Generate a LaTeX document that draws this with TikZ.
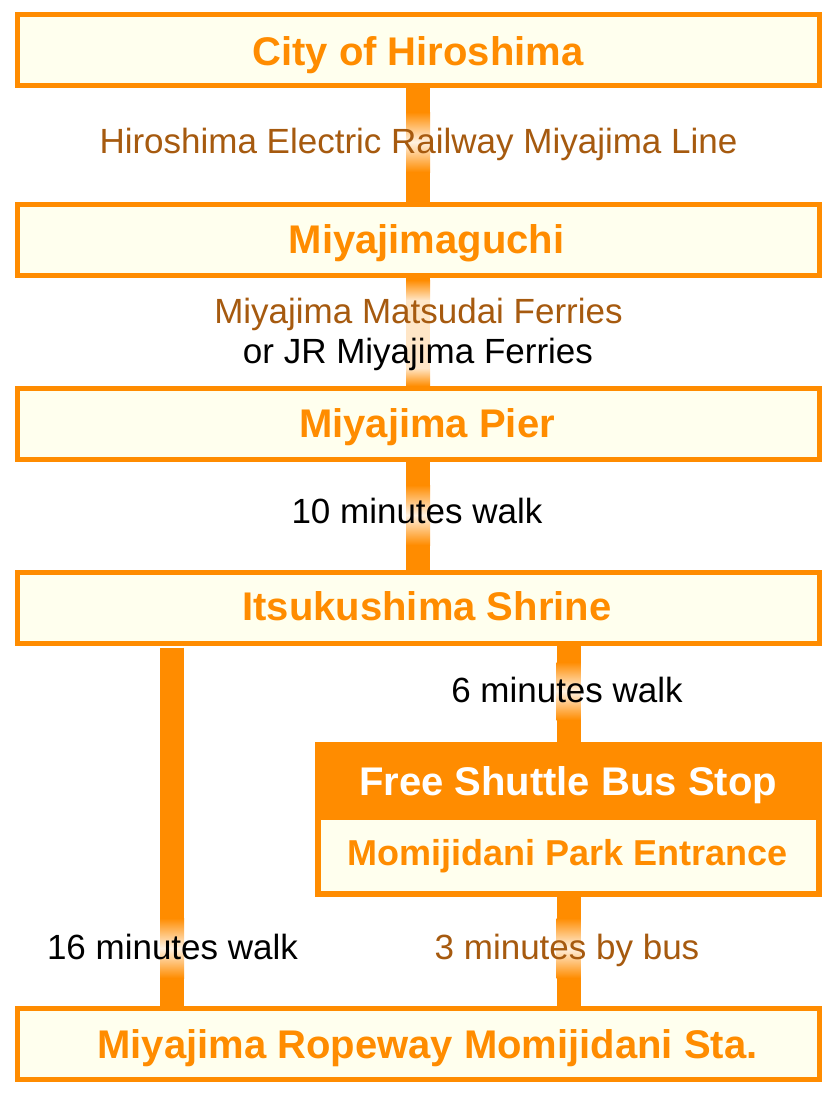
\documentclass[tikz,border=0pt]{standalone}
\usepackage{fontspec}
\setmainfont{Liberation Sans}
\definecolor{OR}{HTML}{FF8C00}
\definecolor{BX}{HTML}{FFFFEE}
\definecolor{BR}{HTML}{A65A0F}
\begin{document}
\begin{tikzpicture}[x=1pt,y=-1pt,
  box/.style={draw=OR, line width=5pt, fill=BX, minimum width=802pt, minimum height=71pt, inner sep=0pt},
  ttl/.style={anchor=base, inner sep=0pt, text=OR, font=\fontsize{40}{44}\selectfont\bfseries},
  bar/.style={draw=OR, line width=24pt},
  glow/.style={shading=axis, top color=OR, bottom color=OR, middle color=OR!12},
  lbl/.style={anchor=base, font=\fontsize{35}{40}\selectfont, inner sep=0pt},
]
\useasboundingbox (0,0) rectangle (834,1095);
\fill[white] (0,0) rectangle (834,1095);
% boxes
\node[box] (city)   at (418,50)   {};
\node[box] (miya)   at (418,239.5){};
\node[box] (pier)   at (418,424)  {};
\node[box] (shrine) at (418,607.5){};
\node[box] (rope)   at (418,1044) {};
\node[draw=none, fill=OR, minimum width=507pt, minimum height=155pt, inner sep=0pt] (bus) at (568.5,819.5) {};
\node[fill=BX, minimum width=495pt, minimum height=71pt, inner sep=0pt] (park) at (568.5,855.5) {};
% titles
\node[ttl] (tcity)   at (418,65)   {City of Hiroshima};
\node[ttl] (tmiya)   at (426.5,253){Miyajimaguchi};
\node[ttl] (tpier)   at (427,437)  {Miyajima Pier};
\node[ttl] (tshrine) at (427,620)  {Itsukushima Shrine};
\node[ttl] (trope)   at (427.5,1058){Miyajima Ropeway Momijidani Sta.};
\node[ttl, text=white] (tbus) at (568,795) {Free Shuttle Bus Stop};
\node[ttl, font=\fontsize{36}{40}\selectfont\bfseries] (tpark) at (567.5,865) {Momijidani Park Entrance};
\coordinate (L) at (172,0);
\coordinate (R) at (568.5,0);
% bars
\draw[bar] (city.south) -- (miya.north);
\draw[bar] (miya.south) -- (pier.north);
\draw[bar] (pier.south) -- (shrine.north);
\draw[bar] ([yshift=-2pt]shrine.south -| L) -- (rope.north -| L);
\draw[bar] (shrine.south -| R) -- (bus.north -| R);
\draw[bar] (bus.south -| R) -- (rope.north -| R);
% glows
\shade[glow] (406,112) rectangle (430,172);
\shade[top color=OR, bottom color=OR!22] (406,280) rectangle (430,300);
\fill[OR!22] (406,299.5) rectangle (430,368.5);
\shade[top color=OR!22, bottom color=OR] (406,368) rectangle (430,386);
\shade[glow] (406,485) rectangle (430,545);
\shade[glow] (556.5,662) rectangle (580.5,720);
\shade[glow] (160,918) rectangle (184,978);
\shade[glow] (556.5,918) rectangle (580.5,978);
% labels
\node[lbl, text=BR] (l1) at (418.5,153) {Hiroshima Electric Railway Miyajima Line};
\node[lbl, text=BR] (l2a) at (418.5,323) {Miyajima Matsudai Ferries};
\node[lbl, text=black] (l2b) at (418,363) {or JR Miyajima Ferries};
\node[lbl, text=black] (l3) at (417,523) {10 minutes walk};
\node[lbl, text=black] (l4) at (567,702) {6 minutes walk};
\node[lbl, text=black] (l5) at (172.5,959) {16 minutes walk};
\node[lbl, text=BR] (l6) at (567,959) {3 minutes by bus};
\end{tikzpicture}
\end{document}
